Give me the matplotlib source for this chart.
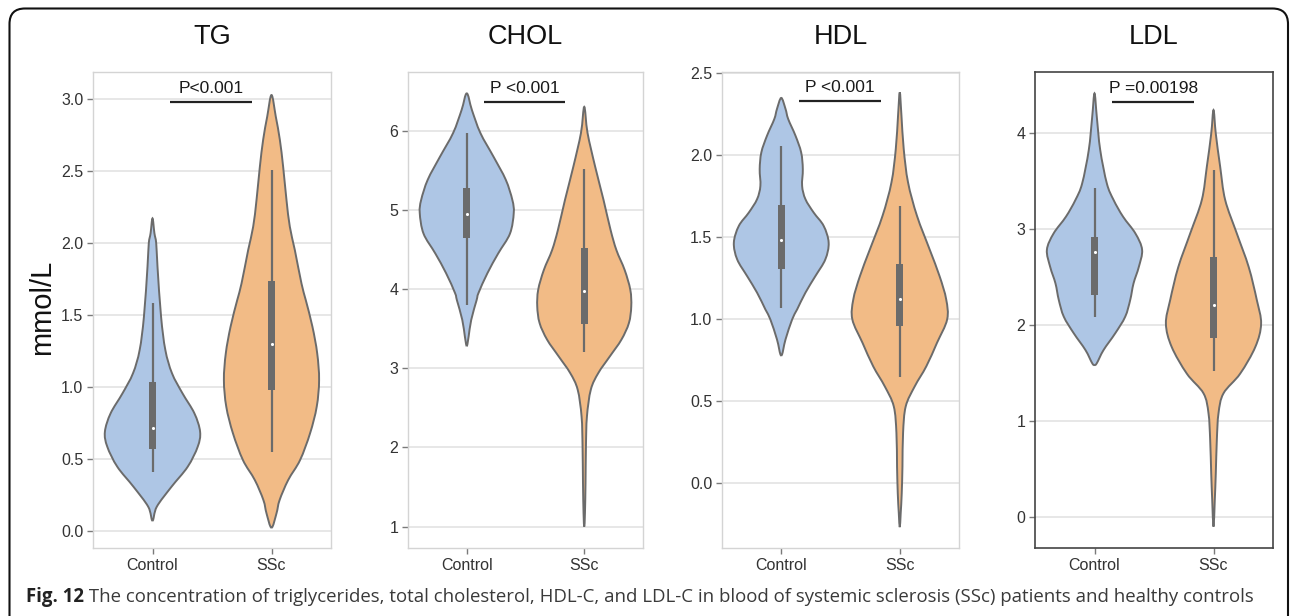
import numpy as np
import matplotlib
matplotlib.use("Agg")
import matplotlib.pyplot as plt
from matplotlib.path import Path
from matplotlib.patches import PathPatch, Rectangle, FancyBboxPatch

# ---------------------------------------------------------------- data
panels = ["TG", "CHOL", "HDL", "LDL"]
groups = ["Control", "SSc"]
p_labels = ["P<0.001", "P <0.001", "P <0.001", "P =0.00198"]
bracket_y = [2.983, 6.366, 2.33, 4.323]

# violin outlines: concentration levels (mmol/L) and relative density (0-1)
tg_control_levels = [0.072, 0.169, 0.308, 0.447, 0.586, 0.69, 0.818, 0.957, 1.096, 1.258, 1.49, 1.837, 2.0, 2.07, 2.173]
tg_control_density = [0.0, 0.09, 0.40, 0.74, 0.95, 1.0, 0.88, 0.63, 0.41, 0.27, 0.18, 0.105, 0.078, 0.04, 0.0]
tg_ssc_levels = [0.023, 0.123, 0.215, 0.354, 0.493, 0.679, 0.864, 1.049, 1.235, 1.42, 1.605, 1.72, 1.953, 2.115, 2.30, 2.53, 2.72, 2.88, 3.03]
tg_ssc_density = [0.0, 0.105, 0.17, 0.35, 0.60, 0.81, 0.95, 1.0, 0.96, 0.86, 0.72, 0.63, 0.49, 0.385, 0.315, 0.245, 0.175, 0.09, 0.0]

chol_control_levels = [3.28, 3.40, 3.61, 3.86, 3.95, 4.2, 4.45, 4.70, 4.96, 5.125, 5.38, 5.67, 5.97, 6.26, 6.47]
chol_control_density = [0.0, 0.04, 0.095, 0.21, 0.25, 0.44, 0.67, 0.92, 1.0, 0.97, 0.83, 0.57, 0.29, 0.11, 0.0]
chol_ssc_levels = [1.0, 1.17, 1.55, 2.01, 2.39, 2.73, 2.94, 3.15, 3.36, 3.57, 3.78, 3.99, 4.24, 4.49, 4.746, 5.125, 5.55, 5.97, 6.30]
chol_ssc_density = [0.0, 0.015, 0.027, 0.036, 0.057, 0.14, 0.30, 0.545, 0.79, 0.95, 1.0, 0.98, 0.86, 0.685, 0.56, 0.41, 0.23, 0.07, 0.0]

hdl_control_levels = [0.776, 0.874, 0.996, 1.057, 1.159, 1.26, 1.362, 1.464, 1.566, 1.647, 1.729, 1.81, 1.912, 2.014, 2.116, 2.217, 2.279, 2.346]
hdl_control_density = [0.0, 0.09, 0.23, 0.335, 0.51, 0.72, 0.93, 1.0, 0.895, 0.685, 0.51, 0.44, 0.455, 0.42, 0.30, 0.147, 0.09, 0.0]
hdl_ssc_levels = [-0.27, -0.185, -0.063, 0.10, 0.304, 0.466, 0.588, 0.71, 0.853, 0.996, 1.118, 1.26, 1.423, 1.627, 1.831, 2.034, 2.238, 2.38]
hdl_ssc_density = [0.0, 0.02, 0.042, 0.057, 0.07, 0.126, 0.316, 0.56, 0.785, 1.0, 0.98, 0.84, 0.63, 0.364, 0.175, 0.084, 0.036, 0.0]

ldl_control_levels = [1.58, 1.6, 1.736, 1.91, 2.083, 2.257, 2.43, 2.60, 2.78, 2.95, 3.125, 3.30, 3.47, 3.82, 4.167, 4.41]
ldl_control_density = [0.0, 0.05, 0.19, 0.435, 0.645, 0.75, 0.82, 0.93, 1.0, 0.86, 0.60, 0.40, 0.26, 0.12, 0.048, 0.0]
ldl_ssc_levels = [-0.104, 0.174, 0.45, 0.80, 1.077, 1.285, 1.49, 1.77, 2.01, 2.257, 2.60, 2.95, 3.30, 3.646, 3.99, 4.236]
ldl_ssc_density = [0.0, 0.027, 0.048, 0.07, 0.105, 0.21, 0.56, 0.88, 1.0, 0.91, 0.74, 0.49, 0.245, 0.14, 0.048, 0.0]

# box-plot summaries per panel: [Control, SSc]
tg_box = {"lo": [0.412, 0.551], "q1": [0.57, 0.98], "med": [0.718, 1.297], "q3": [1.038, 1.737], "hi": [1.587, 2.509]}
chol_box = {"lo": [3.80, 3.20], "q1": [4.64, 3.555], "med": [4.95, 3.98], "q3": [5.28, 4.515], "hi": [5.97, 5.51]}
hdl_box = {"lo": [1.067, 0.646], "q1": [1.305, 0.955], "med": [1.48, 1.122], "q3": [1.692, 1.332], "hi": [2.054, 1.688]}
ldl_box = {"lo": [2.077, 1.517], "q1": [2.31, 1.858], "med": [2.76, 2.20], "q3": [2.917, 2.708], "hi": [3.42, 3.61]}

y_ticks = [
    [0.0, 0.5, 1.0, 1.5, 2.0, 2.5, 3.0],
    [1, 2, 3, 4, 5, 6],
    [0.0, 0.5, 1.0, 1.5, 2.0, 2.5],
    [0, 1, 2, 3, 4],
]
y_tick_fmt = ["{:.1f}", "{:d}", "{:.1f}", "{:d}"]
y_limits = [(-0.118, 3.19), (0.73, 6.74), (-0.397, 2.504), (-0.326, 4.632)]

caption_bold = "Fig. 12"
caption_text = (" The concentration of triglycerides, total cholesterol, HDL-C, and LDL-C in blood "
                "of systemic sclerosis (SSc) patients and healthy controls")

violins = [
    [(tg_control_levels, tg_control_density), (tg_ssc_levels, tg_ssc_density)],
    [(chol_control_levels, chol_control_density), (chol_ssc_levels, chol_ssc_density)],
    [(hdl_control_levels, hdl_control_density), (hdl_ssc_levels, hdl_ssc_density)],
    [(ldl_control_levels, ldl_control_density), (ldl_ssc_levels, ldl_ssc_density)],
]
boxes = [tg_box, chol_box, hdl_box, ldl_box]

# ---------------------------------------------------------------- style
W, H = 1290, 616
fill_colors = ["#aec6e5", "#f2bb86"]
outline = "#6b6b6b"
box_color = "#6b6b6b"
half_width = 0.40
box_half = 0.028
ax_px = [(93, 331), (408, 643), (722, 959), (1035, 1273)]
ax_top, ax_bottom = 72, 548

plt.rcParams["font.family"] = ["Liberation Sans", "DejaVu Sans"]

fig = plt.figure(figsize=(W / 100, H / 100), dpi=100)


def smooth_loop(xs, ys):
    """Closed Catmull-Rom loop through the outline vertices, as Bezier curves."""
    P = np.column_stack([xs, ys])
    n = len(P)
    verts = [P[0]]
    codes = [Path.MOVETO]
    for i in range(n):
        p0, p1, p2, p3 = P[i - 1], P[i], P[(i + 1) % n], P[(i + 2) % n]
        c1 = p1 + (p2 - p0) / 6.0
        c2 = p2 - (p3 - p1) / 6.0
        verts += [c1, c2, p2]
        codes += [Path.CURVE4] * 3
    return Path(np.array(verts), codes)


def draw_violin(ax, x0, levels, density, color):
    lv = np.asarray(levels, float)
    d = np.asarray(density, float) * half_width
    xs = np.concatenate([x0 + d, (x0 - d)[-2:0:-1]])
    ys = np.concatenate([lv, lv[-2:0:-1]])
    ax.add_patch(PathPatch(smooth_loop(xs, ys), facecolor=color, edgecolor=outline,
                           lw=1.4, zorder=3))


for k, name in enumerate(panels):
    x_left, x_right = ax_px[k]
    ax = fig.add_axes([x_left / W, 1 - ax_bottom / H, (x_right - x_left) / W, (ax_bottom - ax_top) / H])
    ax.set_xlim(-0.5, 1.5)
    ax.set_ylim(*y_limits[k])
    ax.set_facecolor("white")

    for g, (levels, density) in enumerate(violins[k]):
        draw_violin(ax, g, levels, density, fill_colors[g])
        b = boxes[k]
        ax.vlines(g, b["lo"][g], b["hi"][g], color=box_color, lw=1.6, zorder=4)
        ax.add_patch(Rectangle((g - box_half, b["q1"][g]), 2 * box_half, b["q3"][g] - b["q1"][g],
                               facecolor=box_color, edgecolor="none", zorder=5))
        ax.scatter([g], [b["med"][g]], s=5, color="white", zorder=6, linewidths=0)

    # significance bar
    ax.plot([0.15, 0.84], [bracket_y[k]] * 2, color="#222222", lw=1.6, zorder=6,
            solid_capstyle="butt")
    ax.annotate(p_labels[k], xy=(0.495, bracket_y[k]), xytext=(0, 4), textcoords="offset points",
                ha="center", va="bottom", fontsize=12.5, color="#1a1a1a")

    ax.set_yticks(y_ticks[k])
    ax.set_yticklabels([y_tick_fmt[k].format(t) for t in y_ticks[k]])
    ax.set_xticks([0, 1])
    ax.set_xticklabels(groups)
    ax.yaxis.grid(True, color="#e3e3e3", lw=1.2, zorder=0)
    ax.set_axisbelow(True)
    ax.tick_params(axis="both", length=4, width=1, color="#7a7a7a", labelsize=11.5,
                   labelcolor="#333333", pad=3)
    frame = "#444444" if name == "LDL" else "#d4d4d4"
    for s in ax.spines.values():
        s.set_color(frame)
        s.set_linewidth(1.2 if name == "LDL" else 1.0)

    fig.text((x_left + x_right) / 2 / W, 1 - 37 / H, name, ha="center", va="center",
             fontsize=19.5, color="#111111")

fig.text(42 / W, 1 - 307 / H, "mmol/L", rotation=90, ha="center", va="center",
         fontsize=21, color="#111111")

# rounded outer frame
fig.patches.append(FancyBboxPatch((9.5 / W, -20 / H), (1288 - 9.5) / W, (616 + 20 - 8.5) / H,
                                  boxstyle="round,pad=0,rounding_size=0.012",
                                  transform=fig.transFigure, facecolor="none",
                                  edgecolor="#111111", lw=1.5, mutation_aspect=W / H))

# caption
cap_font = ["Open Sans", "DejaVu Sans"]
cap_size = 13.45
t1 = fig.text(26 / W, 1 - 597 / H, caption_bold, ha="left", va="center", fontsize=cap_size,
              fontweight="bold", family=cap_font, color="#222222")
fig.canvas.draw()
bb = t1.get_window_extent(fig.canvas.get_renderer())
fig.text(bb.x1 / W, 1 - 597 / H, caption_text, ha="left", va="center", fontsize=cap_size,
         family=cap_font, color="#3a3a3a")

fig.savefig("out.png", dpi=100)
